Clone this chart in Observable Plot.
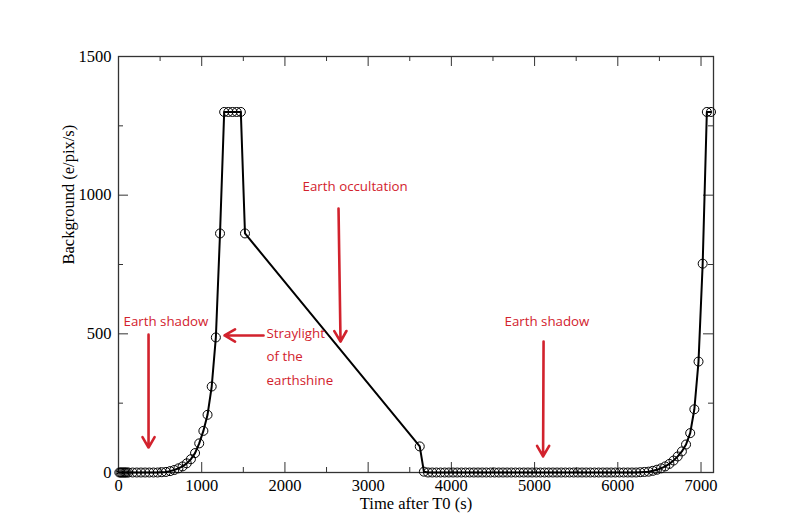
<!DOCTYPE html>
<html>
<head>
<meta charset="utf-8">
<script src="https://cdn.jsdelivr.net/npm/d3@7"></script>
<script src="https://cdn.jsdelivr.net/npm/@observablehq/plot@0.6"></script>
<style>
  body { margin: 0; background: #fff; }
  #chart svg { display: block; }
</style>
</head>
<body>
<div id="chart"></div>
<script>
// Orbit time samples (s after T0)
const times = [
  10, 25, 40, 55, 70, 85, 100, 120,
  170, 220, 270, 320, 370, 420, 470,
  520, 570, 620, 670, 720, 770, 820, 870, 920, 970, 1020, 1070, 1120, 1170,
  1220,
  1270, 1320, 1370, 1420, 1470,
  1520,
  3620, 3670,
  3720, 3770, 3820, 3870, 3920, 3970, 4020, 4070, 4120, 4170, 4220, 4270, 4320,
  4370, 4420, 4470, 4520, 4570, 4620, 4670, 4720, 4770, 4820, 4870, 4920, 4970,
  5020, 5070, 5120, 5170, 5220, 5270, 5320, 5370, 5420, 5470, 5520, 5570, 5620,
  5670, 5720, 5770, 5820, 5870, 5920, 5970, 6020, 6070, 6120, 6170, 6220,
  6270, 6320, 6370, 6420, 6470, 6520, 6570, 6620, 6670, 6720, 6770, 6820, 6870, 6920,
  6970, 7020, 7070, 7120
];

// Sky background at each sample (e/pix/s)
const background = [
  0, 0, 0, 0, 0, 0, 0, 0,
  0, 0, 0, 0, 0, 0, 0,
  1, 2, 5, 9, 15, 22, 33, 48, 70, 105, 150, 208, 310, 487,
  862,
  1300, 1300, 1300, 1300, 1300,
  862,
  94, 3,
  0, 0, 0, 0, 0, 0, 0, 0, 0, 0, 0, 0, 0,
  0, 0, 0, 0, 0, 0, 0, 0, 0, 0, 0, 0, 0,
  0, 0, 0, 0, 0, 0, 0, 0, 0, 0, 0, 0, 0,
  0, 0, 0, 0, 0, 0, 0, 0, 0, 0, 0, 0,
  1, 2, 3, 6, 10, 15, 22, 31, 43, 58, 76, 101, 142, 228,
  400, 753, 1300, 1300
];

// Axis ticks
const xMajor = [0, 1000, 2000, 3000, 4000, 5000, 6000, 7000];
const xMinor = [500, 1500, 2500, 3500, 4500, 5500, 6500];
const yMajor = [0, 500, 1000, 1500];
const yMinor = [250, 750, 1250];

// Annotation texts, anchored in data units
const noteText = ["Earth shadow", "Earth occultation", "Earth shadow", "Straylight", "of the", "earthshine"];
const noteX = [60, 2212, 4639, 1779, 1779, 1779];
const noteY = [544, 1031, 544, 501, 418, 332];

// Annotation arrows (start -> head), in data units
const arrowX1 = [361, 2644, 5108, 1743];
const arrowY1 = [497, 952, 472, 494];
const arrowX2 = [361, 2668, 5102, 1274];
const arrowY2 = [90, 472, 58, 494];

const series = times.map((t, i) => ({t, v: background[i]}));
const notes = noteText.map((text, i) => ({text, x: noteX[i], y: noteY[i]}));
const arrows = arrowX1.map((x1, i) => ({x1, y1: arrowY1[i], x2: arrowX2[i], y2: arrowY2[i]}));

const W = 785, H = 517, ML = 118, MR = 72, MT = 56, MB = 45;
const frameW = W - ML - MR, frameH = H - MT - MB;
const major = 10, minor = 5;
const red = "#d2222d";
const axisColor = "#333";
const serif = "'Liberation Serif', 'Times New Roman', serif";

const chart = Plot.plot({
  width: W,
  height: H,
  marginLeft: ML,
  marginRight: MR,
  marginTop: MT,
  marginBottom: MB,
  x: {domain: [0, 7150]},
  y: {domain: [0, 1500]},
  style: {fontFamily: serif, fontSize: "16px", color: "#000", background: "#fff"},
  marks: [
    Plot.frame({stroke: axisColor, strokeWidth: 1.3}),
    // inward ticks on all four sides
    Plot.tickX(xMajor, {x: d => d, insetTop: frameH - major, stroke: axisColor}),
    Plot.tickX(xMinor, {x: d => d, insetTop: frameH - minor, stroke: axisColor}),
    Plot.tickX(xMajor, {x: d => d, insetBottom: frameH - major, stroke: axisColor}),
    Plot.tickX(xMinor, {x: d => d, insetBottom: frameH - minor, stroke: axisColor}),
    Plot.tickY(yMajor, {y: d => d, insetRight: frameW - major, stroke: axisColor}),
    Plot.tickY(yMinor, {y: d => d, insetRight: frameW - minor, stroke: axisColor}),
    Plot.tickY(yMajor, {y: d => d, insetLeft: frameW - major, stroke: axisColor}),
    Plot.tickY(yMinor, {y: d => d, insetLeft: frameW - minor, stroke: axisColor}),
    Plot.axisX({ticks: xMajor, tickSize: 0, tickPadding: 7, tickFormat: d => String(d), label: null, fontSize: 16.5, fontFamily: serif}),
    Plot.axisY({ticks: yMajor, tickSize: 0, tickPadding: 7, tickFormat: d => String(d), label: null, fontSize: 16.5, fontFamily: serif}),
    Plot.text(["Time after T0 (s)"], {frameAnchor: "bottom", dy: 31, fontSize: 16.5, fontFamily: serif, lineAnchor: "middle"}),
    Plot.text(["Background (e/pix/s)"], {frameAnchor: "left", dx: -50, rotate: -90, fontSize: 16.5, fontFamily: serif, lineAnchor: "middle"}),
    // data
    Plot.line(series, {x: "t", y: "v", stroke: "#000", strokeWidth: 2}),
    Plot.dot(series, {x: "t", y: "v", r: 4.5, stroke: "#000", strokeWidth: 1, fill: "none"}),
    // annotations
    Plot.arrow(arrows, {x1: "x1", y1: "y1", x2: "x2", y2: "y2", stroke: red, strokeWidth: 2.6, headLength: 7}),
    Plot.text(notes, {x: "x", y: "y", text: "text", textAnchor: "start", fill: red, fontFamily: "'Open Sans', sans-serif", fontSize: 13.3})
  ]
});

document.getElementById("chart").appendChild(chart);
</script>
</body>
</html>
